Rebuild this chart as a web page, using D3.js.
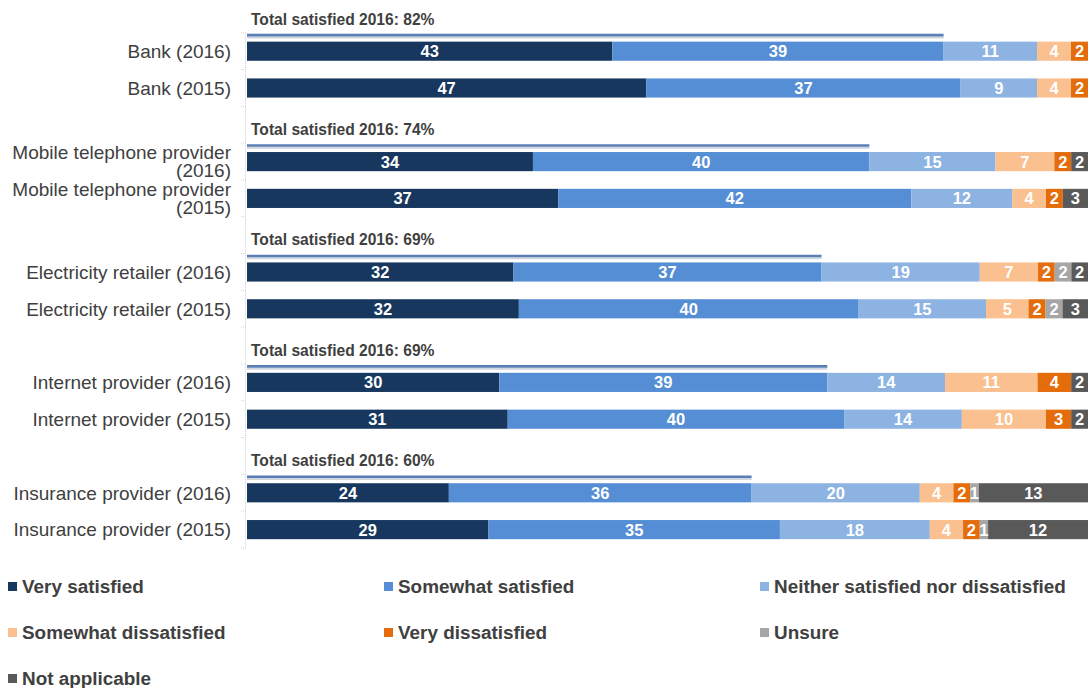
<!DOCTYPE html>
<html>
<head>
<meta charset="utf-8">
<script src="https://cdn.jsdelivr.net/npm/d3@7"></script>
<style>
  html, body { margin: 0; padding: 0; background: #fff; }
  svg { display: block; font-family: "Liberation Sans", Arial, sans-serif; }
</style>
</head>
<body>
<svg id="chart" width="1091" height="688"></svg>
<script>
// Customer satisfaction by provider type, 2016 vs 2015 (per cent of respondents)
const categories = [
  "Bank (2016)", "Bank (2015)",
  "Mobile telephone provider (2016)", "Mobile telephone provider (2015)",
  "Electricity retailer (2016)", "Electricity retailer (2015)",
  "Internet provider (2016)", "Internet provider (2015)",
  "Insurance provider (2016)", "Insurance provider (2015)"
];
const seriesNames = [
  "Very satisfied", "Somewhat satisfied", "Neither satisfied nor dissatisfied",
  "Somewhat dissatisfied", "Very dissatisfied", "Unsure", "Not applicable"
];
const verySatisfied        = [43, 47, 34, 37, 32, 32, 30, 31, 24, 29];
const somewhatSatisfied    = [39, 37, 40, 42, 37, 40, 39, 40, 36, 35];
const neither              = [11,  9, 15, 12, 19, 15, 14, 14, 20, 18];
const somewhatDissatisfied = [ 4,  4,  7,  4,  7,  5, 11, 10,  4,  4];
const veryDissatisfied     = [ 2,  2,  2,  2,  2,  2,  4,  3,  2,  2];
const unsure               = [ 0,  0,  0,  0,  2,  2,  0,  0,  1,  1];
const notApplicable        = [ 0,  0,  2,  3,  2,  3,  2,  2, 13, 12];
// "Total satisfied 2016" figures shown above each 2016 bar
const totalSatisfied2016   = [82, 74, 69, 69, 60];

const colors = ["#17375e", "#558ed5", "#8db3e2", "#fac090", "#e46c0a", "#a6a6a6", "#595959"];
const valueArrays = [verySatisfied, somewhatSatisfied, neither, somewhatDissatisfied,
                     veryDissatisfied, unsure, notApplicable];

const rows = categories.map((c, i) => {
  const r = { category: c };
  seriesNames.forEach((s, k) => { r[s] = valueArrays[k][i]; });
  return r;
});

const svg = d3.select("#chart");
const margin = { left: 247, right: 3 };
const width = 1091;

// Row layout: a spacer row (holding the total-satisfied note) before each provider pair
const yDomain = [];
categories.forEach((c, i) => {
  if (i % 2 === 0) yDomain.push("gap-" + i);
  yDomain.push(c);
});

const y = d3.scaleBand()
  .domain(yDomain)
  .range([-4, 548])
  .paddingInner(0.48)
  .paddingOuter(0.24);

const x = d3.scaleLinear().domain([0, 1]).range([margin.left, width - margin.right]);

const stack = d3.stack().keys(seriesNames).offset(d3.stackOffsetExpand);
const stacked = stack(rows);

// Left axis: faint dotted rule with ticks at row boundaries
const axisG = svg.append("g");
const firstRowTop = y(categories[0]) - y.step() * y.paddingInner() / 2;
const lastRowBottom = y(categories[categories.length - 1]) + y.bandwidth() + y.step() * y.paddingInner() / 2;
axisG.append("line")
  .attr("x1", 245.5).attr("x2", 245.5)
  .attr("y1", firstRowTop).attr("y2", lastRowBottom)
  .attr("stroke", "#d0d0d0").attr("stroke-dasharray", "1,1");
const boundaries = d3.range(0, yDomain.length + 1).map(i => y.range()[0] + y.step() * i);
axisG.selectAll("line.tick")
  .data(boundaries.filter(b => b >= firstRowTop - 1 && b <= lastRowBottom + 1))
  .join("line").attr("class", "tick")
  .attr("x1", 241).attr("x2", 245.5)
  .attr("y1", d => d).attr("y2", d => d)
  .attr("stroke", "#d0d0d0").attr("stroke-dasharray", "1,1");

// Stacked bars
const layer = svg.append("g").selectAll("g")
  .data(stacked)
  .join("g")
  .attr("fill", (d, i) => colors[i]);

layer.selectAll("rect")
  .data(d => d)
  .join("rect")
  .attr("x", d => x(d[0]))
  .attr("y", d => y(d.data.category))
  .attr("width", d => Math.max(0, x(d[1]) - x(d[0])))
  .attr("height", y.bandwidth());

// Value labels inside the segments
const labelG = svg.append("g")
  .attr("font-size", 16.5).attr("font-weight", "bold").attr("fill", "#fff")
  .attr("text-anchor", "middle");
stacked.forEach((series) => {
  series.forEach(d => {
    const v = d.data[series.key];
    if (!v) return;
    labelG.append("text")
      .attr("x", (x(d[0]) + x(d[1])) / 2)
      .attr("y", y(d.data.category) + y.bandwidth() / 2)
      .attr("dy", "0.36em")
      .text(v);
  });
});

// Total satisfied 2016 rule and note above each 2016 bar
const noteG = svg.append("g");
totalSatisfied2016.forEach((t, g) => {
  const cat = categories[g * 2];
  const row = rows[g * 2];
  const rowTotal = d3.sum(seriesNames, s => row[s]);
  const top = y(cat);
  const xEnd = x(t / rowTotal);
  noteG.append("line")
    .attr("x1", x(0)).attr("x2", xEnd)
    .attr("y1", top - 4.2).attr("y2", top - 4.2)
    .attr("stroke", "#cfd6e0").attr("stroke-width", 2);
  noteG.append("line")
    .attr("x1", x(0)).attr("x2", xEnd)
    .attr("y1", top - 6.5).attr("y2", top - 6.5)
    .attr("stroke", "#5a7fb5").attr("stroke-width", 2.6);
  noteG.append("text")
    .attr("x", 251).attr("y", top - 17)
    .attr("font-size", 15.6).attr("font-weight", "bold").attr("fill", "#404040")
    .text(`Total satisfied 2016: ${t}%`);
});

// Category labels, wrapped when too wide for the margin
const catG = svg.append("g")
  .attr("font-size", 19).attr("fill", "#404040").attr("text-anchor", "end");
categories.forEach(c => {
  const cy = y(c) + y.bandwidth() / 2;
  const t = catG.append("text").attr("x", 231).attr("y", cy).attr("dy", "0.36em").text(c);
  if (t.node().getComputedTextLength() > 228) {
    const words = c.split(" ");
    const last = words.pop();
    t.text(null);
    const lh = 18;
    t.append("tspan").attr("x", 231).attr("y", cy - lh / 2).attr("dy", "0.36em").text(words.join(" "));
    t.append("tspan").attr("x", 231).attr("y", cy + lh / 2).attr("dy", "0.36em").text(last);
  }
});

// Legend: three columns
const legendG = svg.append("g");
seriesNames.forEach((s, i) => {
  const col = i % 3, r = Math.floor(i / 3);
  const lx = 8 + col * 376, ly = 593 + r * 46;
  legendG.append("rect")
    .attr("x", lx).attr("y", ly - 11).attr("width", 9).attr("height", 9)
    .attr("fill", colors[i]);
  legendG.append("text")
    .attr("x", lx + 14).attr("y", ly)
    .attr("font-size", 18.9).attr("font-weight", "bold").attr("fill", "#404040")
    .text(s);
});
</script>
</body>
</html>
